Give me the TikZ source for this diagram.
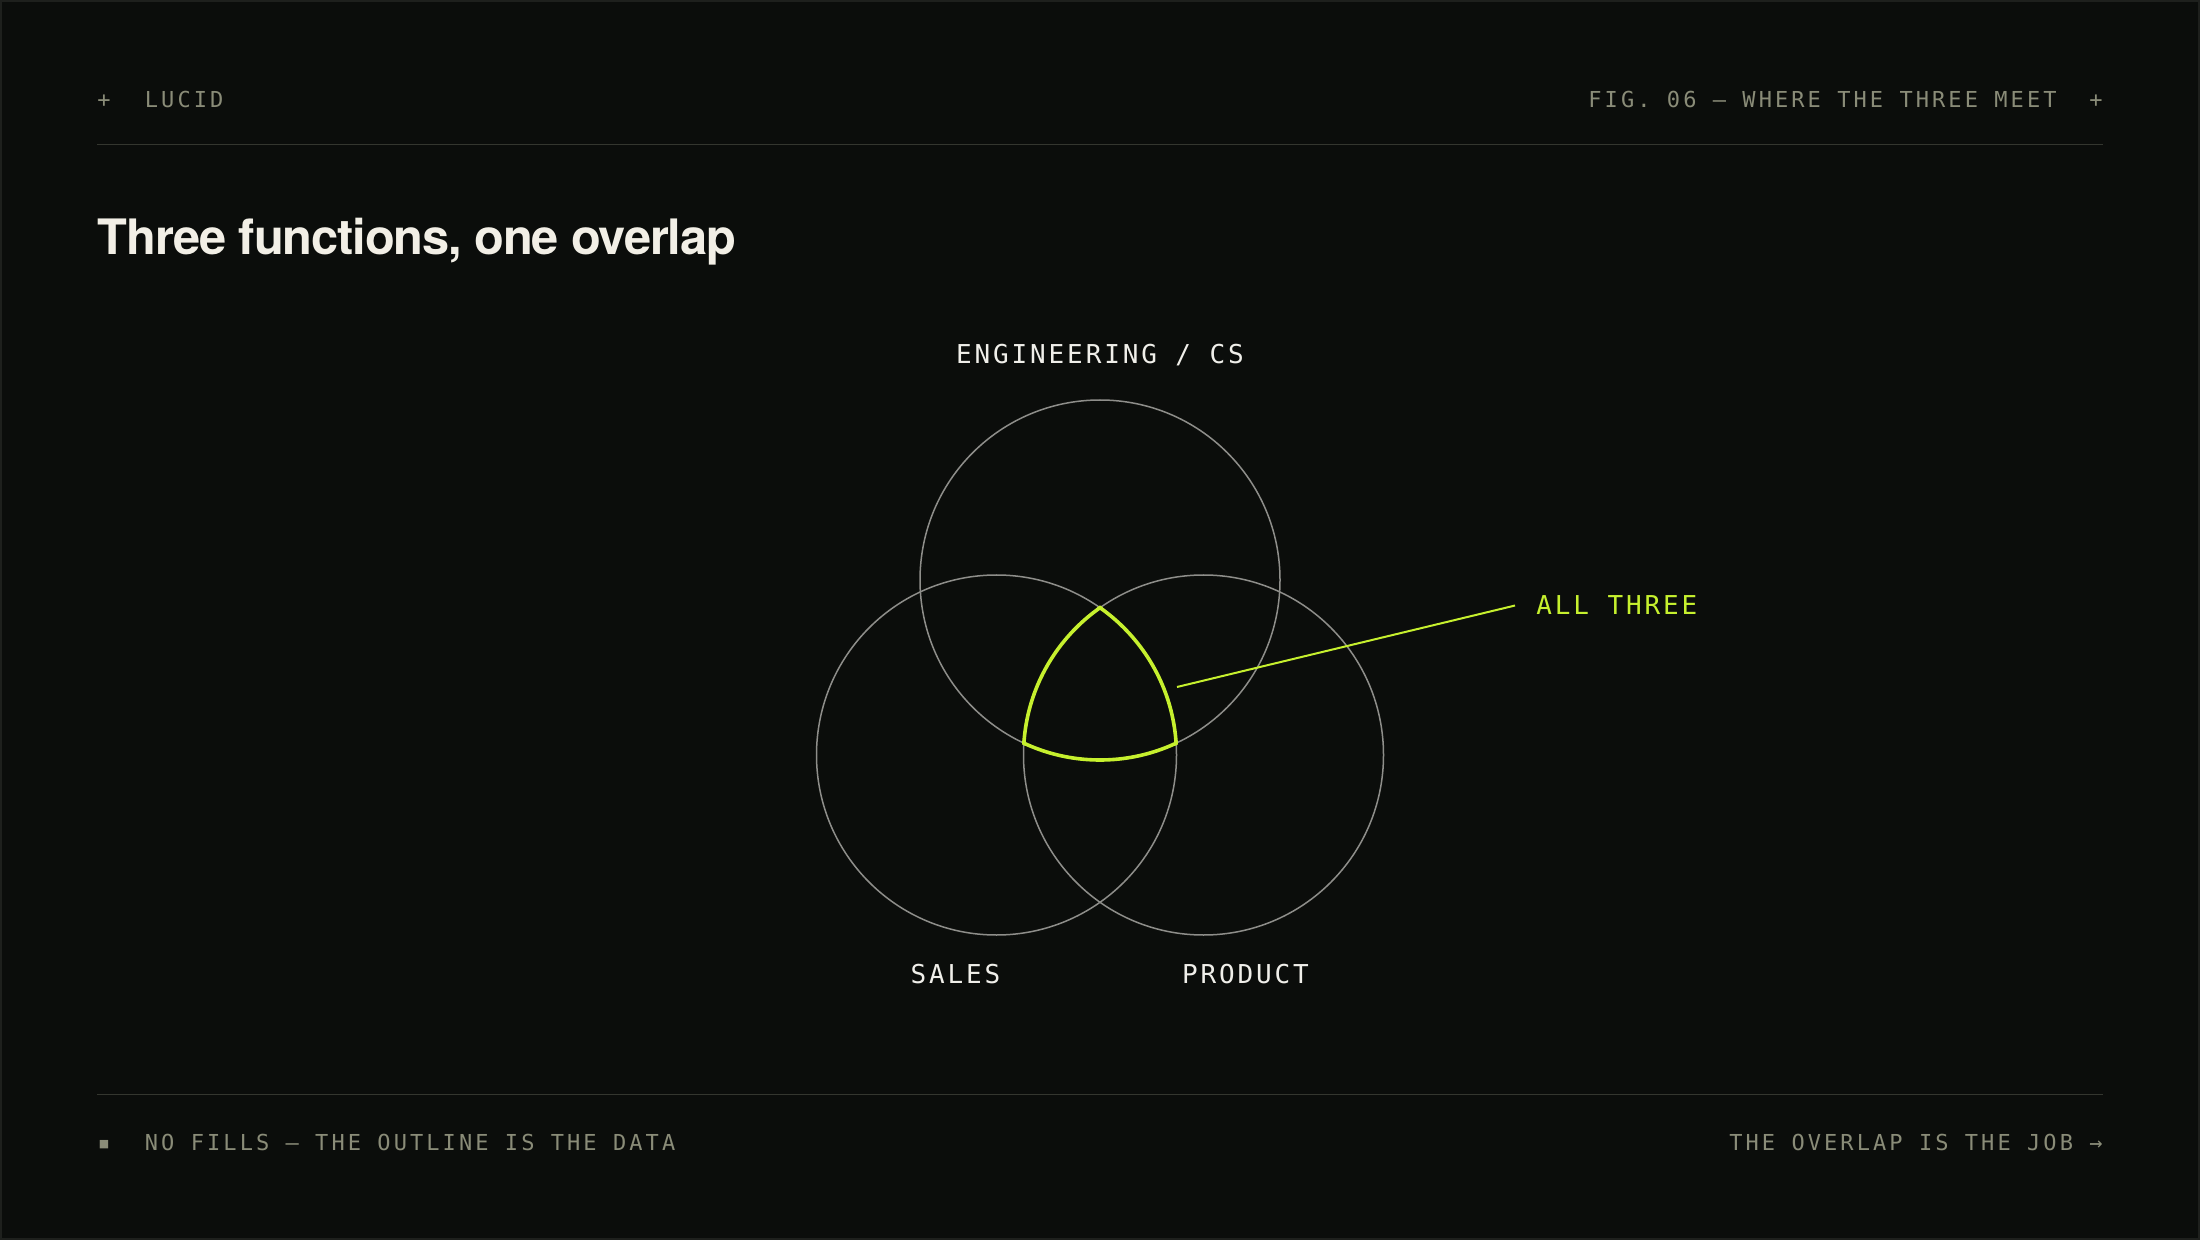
\documentclass[tikz,border=0pt]{standalone}
\usepackage{fontspec}
\usepackage{tikz}
\setmainfont{TeX Gyre Heros}
\newfontfamily\metafont[LetterSpace=14]{DejaVu Sans Mono}
\newfontfamily\labelfont[LetterSpace=11]{DejaVu Sans Mono}
\newfontfamily\titlefont[LetterSpace=-2.3]{TeX Gyre Heros}
\newfontfamily\symfont{DejaVu Sans}

\definecolor{bg}{HTML}{0B0D0B}
\definecolor{framegrey}{HTML}{1E201D}
\definecolor{rulegrey}{HTML}{34362F}
\definecolor{muted}{HTML}{8A8C78}
\definecolor{ringgrey}{HTML}{8E8E8A}
\definecolor{lime}{HTML}{C6F02E}
\definecolor{cream}{HTML}{F2EFE6}
\definecolor{ink}{HTML}{F0EFEA}

\tikzset{
  meta/.style={font=\metafont\fontsize{11}{13}\selectfont, text=muted, inner sep=0pt},
  setlabel/.style={font=\labelfont\fontsize{13}{15}\selectfont, text=ink, inner sep=0pt},
  ring/.style={draw=ringgrey, line width=0.75pt},
  overlap/.style={draw=lime, line width=1.8pt},
  hairline/.style={draw=rulegrey, line width=0.75pt}
}

\begin{document}
\begin{tikzpicture}[x=0.5pt, y=-0.5pt]
      \fill[bg] (0,0) rectangle (2200,1240);
      \draw[framegrey, line width=1pt] (1,1) rectangle (2199,1239);
      \useasboundingbox (0,0) rectangle (2200,1240);
      % header
      \node[meta, anchor=base west] (plusl) at (97,107.5) {+};
      \node[meta, anchor=base west] (brand) at (144.5,107.5) {LUCID};
      \node[meta, anchor=base east] (plusr) at (2103,107.5) {+};
      \node[meta, anchor=base east] (fig) at (2057,107.5) {FIG. 06 — WHERE THE THREE MEET};
      \draw[hairline] (97,144.5) -- (2103,144.5);
      \node[anchor=base west, inner sep=0pt, text=cream,
            font=\titlefont\bfseries\fontsize{24.4}{28}\selectfont] (title) at (97.5,255)
            {Three functions, one overlap};
      % the three sets
      \coordinate (eng) at (1100,580);
      \coordinate (sales) at (996.5,755);
      \coordinate (prod) at (1203.5,755);
      \foreach \c in {eng, sales, prod}{
        \draw[ring] (\c) circle [radius=90pt];
      }
      \foreach \a/\b/\c in {eng/sales/prod, sales/prod/eng, prod/eng/sales}{
        \begin{scope}
          \clip (\a) circle [radius=90.9pt];
          \clip (\b) circle [radius=90.9pt];
          \draw[overlap] (\c) circle [radius=90pt];
        \end{scope}
      }
      \node[setlabel, anchor=base] (englabel) at (1100,364) {ENGINEERING / CS};
      \node[setlabel, anchor=base] (saleslabel) at (955.5,983) {SALES};
      \node[setlabel, anchor=base] (prodlabel) at (1245.5,983) {PRODUCT};
      % callout
      \coordinate (tip) at (1177,687);
      \node[setlabel, text=lime, anchor=base west, inner xsep=10.5pt] (allthree) at (1515,615) {ALL THREE};
      \draw[lime, line width=1pt] (tip) -- (allthree.west);
      % footer
      \draw[hairline] (97,1094.5) -- (2103,1094.5);
      \node[inner sep=0pt, text=muted, font=\symfont\fontsize{5.5}{6}\selectfont] (bullet) at (104,1144.5) {■};
      \node[meta, anchor=base west] (note) at (144.5,1150) {NO FILLS — THE OUTLINE IS THE DATA};
      \node[meta, anchor=base east] (job) at (2103,1150) {THE OVERLAP IS THE JOB →};
\end{tikzpicture}
\end{document}
